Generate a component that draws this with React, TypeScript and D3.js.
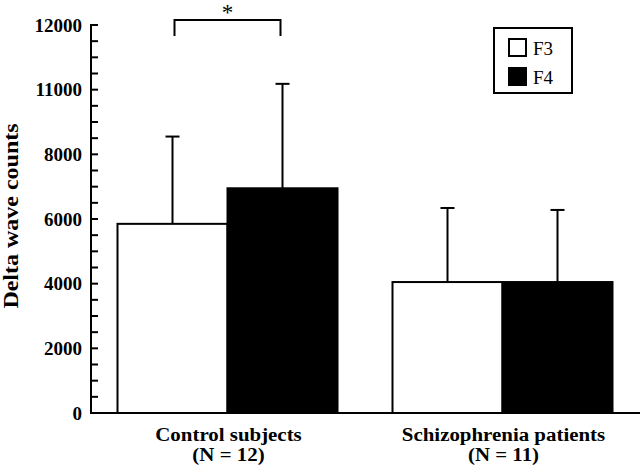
import React from "react";
import * as d3 from "d3";

const groups = ["Control subjects", "Schizophrenia patients"];
const groupN = ["(N = 12)", "(N = 11)"];
const series = ["F3", "F4"];
const means = [
  [5850, 6950],
  [4050, 4050],
];
const upperErr = [
  [8550, 10180],
  [6340, 6280],
];
const tickValues = [0, 2000, 4000, 6000, 8000, 10000, 12000];
const tickLabels = ["0", "2000", "4000", "6000", "8000", "11000", "12000"];
const minorTicks = d3.range(0, 12001, 500);
const fills = ["#ffffff", "#000000"];

const W = 640;
const H = 466;
const FONT = "'Liberation Serif', 'Times New Roman', serif";

export default function App() {
  const y = d3.scaleLinear().domain([0, 12000]).range([413, 25]);
  const x = d3
    .scaleBand<string>()
    .domain(groups)
    .range([90, 640])
    .paddingInner(0.2)
    .paddingOuter(0.1);
  const xs = d3.scaleBand<string>().domain(series).range([0, x.bandwidth()]).padding(0);
  const axisX = 91;

  const cx = (g: number, s: number) => (x(groups[g]) as number) + (xs(series[s]) as number) + xs.bandwidth() / 2;

  return (
    <svg width={W} height={H} style={{ position: "absolute", left: 0, top: 0, background: "#fff" }}>
      <rect x={0} y={0} width={W} height={H} fill="#fff" />
      {/* bars */}
      {groups.map((g, gi) =>
        series.map((s, si) => {
          const bx = (x(g) as number) + (xs(s) as number);
          const by = y(means[gi][si]);
          return (
            <rect
              key={g + s}
              x={bx}
              y={by}
              width={xs.bandwidth()}
              height={y(0) - by}
              fill={fills[si]}
              stroke="#000"
              strokeWidth={2}
            />
          );
        })
      )}
      {/* error bars */}
      {groups.map((g, gi) =>
        series.map((s, si) => {
          const c = cx(gi, si);
          const top = y(upperErr[gi][si]);
          return (
            <g key={"e" + g + s} stroke="#000" strokeWidth={2}>
              <line x1={c} x2={c} y1={y(means[gi][si])} y2={top} />
              <line x1={c - 7} x2={c + 7} y1={top} y2={top} />
            </g>
          );
        })
      )}
      {/* axes */}
      <line x1={axisX} x2={axisX} y1={y(12000) - 1} y2={y(0) + 1} stroke="#000" strokeWidth={2} />
      <line x1={axisX - 1} x2={W} y1={y(0)} y2={y(0)} stroke="#000" strokeWidth={2} />
      {minorTicks.map((v) => (
        <line key={"m" + v} x1={axisX} x2={axisX + 7} y1={y(v)} y2={y(v)} stroke="#000" strokeWidth={2} />
      ))}
      {tickValues.map((v, i) => (
        <text
          key={"t" + v}
          x={82}
          y={y(v)}
          dy="0.35em"
          textAnchor="end"
          fontFamily={FONT}
          fontWeight="bold"
          fontSize={19}
        >
          {tickLabels[i]}
        </text>
      ))}
      <text
        transform={`translate(17.5,216) rotate(-90) scale(1.2,1)`}
        textAnchor="middle"
        fontFamily={FONT}
        fontWeight="bold"
        fontSize={20}
      >
        Delta wave counts
      </text>
      {/* category labels */}
      {groups.map((g, gi) => {
        const c = (x(g) as number) + x.bandwidth() / 2;
        return (
          <g key={"c" + g} fontFamily={FONT} fontWeight="bold" fontSize={19} textAnchor="middle">
            <text transform={`translate(${c + 1},441) scale(1.1,1)`}>{g}</text>
            <text transform={`translate(${c + 1},461) scale(1.1,1)`}>{groupN[gi]}</text>
          </g>
        );
      })}
      {/* significance bracket */}
      <path
        d={`M${cx(0, 0) + 2},36 V20 H${cx(0, 1) - 2} V36`}
        fill="none"
        stroke="#000"
        strokeWidth={2}
      />
      <text
        x={(cx(0, 0) + cx(0, 1)) / 2}
        y={20}
        textAnchor="middle"
        fontFamily={FONT}
        fontSize={23}
      >
        *
      </text>
      {/* legend */}
      <rect x={494} y={28} width={78} height={65} fill="#fff" stroke="#000" strokeWidth={2} />
      {series.map((s, si) => (
        <g key={"l" + s}>
          <rect x={509} y={39 + si * 29} width={17} height={17} fill={fills[si]} stroke="#000" strokeWidth={2} />
          <text x={533} y={48 + si * 29} dy="0.35em" fontFamily={FONT} fontSize={19}>
            {s}
          </text>
        </g>
      ))}
    </svg>
  );
}
